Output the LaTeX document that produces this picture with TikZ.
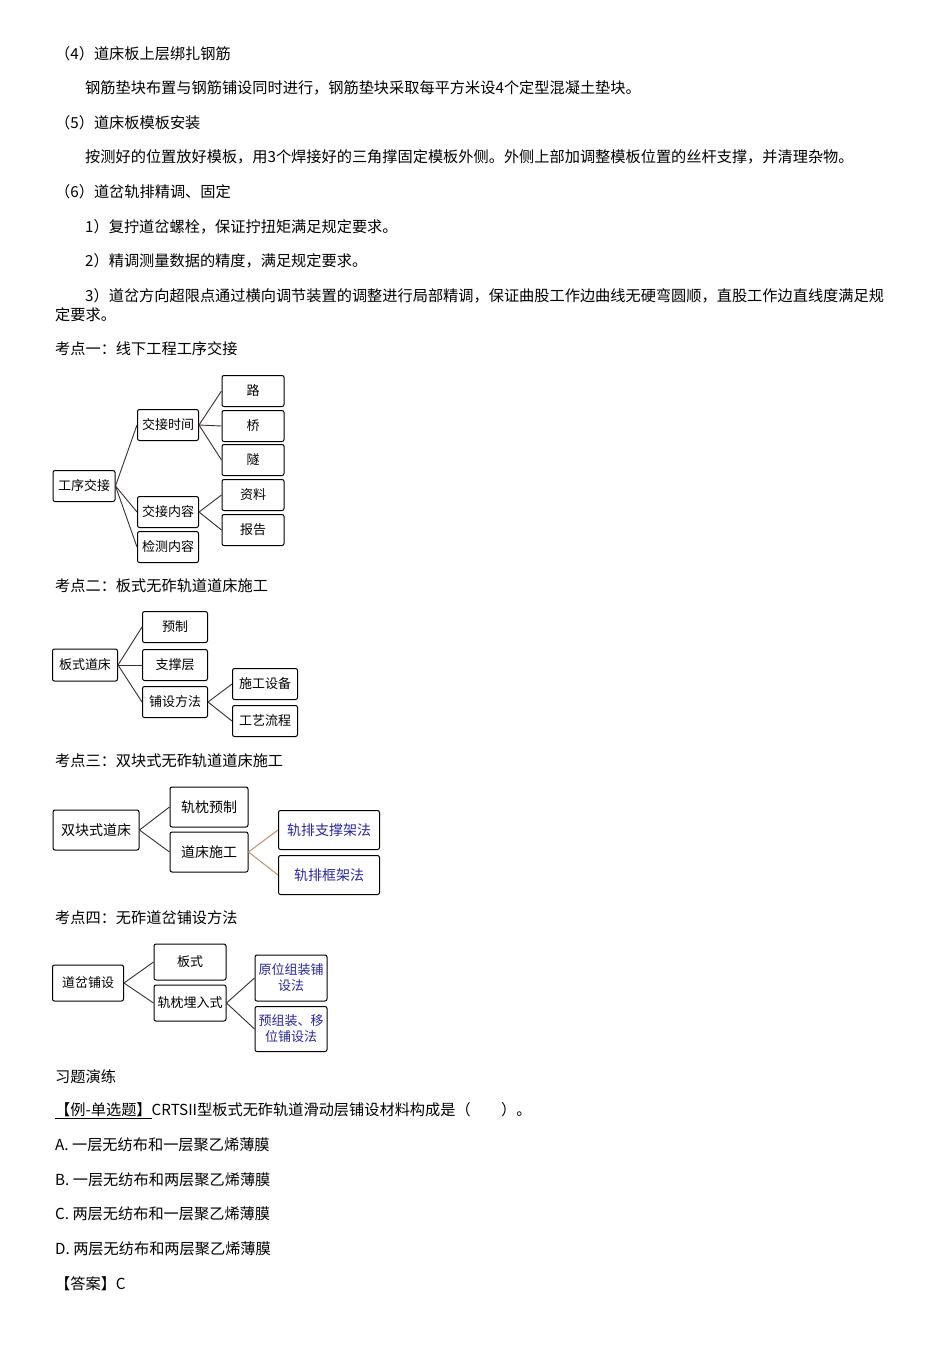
\documentclass[tikz,border=0pt]{standalone}
\usepackage{fontspec}
\setmainfont{Noto Sans CJK SC}
\tikzset{
  txt/.style={anchor=west,inner sep=0pt,font=\fontsize{15.2}{17}\selectfont},
  box/.style={draw,rounded corners=2pt,line width=1pt,inner sep=1pt,align=center,font=\fontsize{13}{16}\selectfont},
  big/.style={font=\fontsize{14}{17}\selectfont},
  blu/.style={text={rgb,255:red,40;green,40;blue,150}},
  link/.style={line width=0.9pt,color={rgb,255:red,60;green,45;blue,45}},
  brn/.style={line width=1pt,color={rgb,255:red,190;green,145;blue,110}}
}
\begin{document}
\begin{tikzpicture}[x=1pt,y=-1pt]
\useasboundingbox[fill=white] (0,0) rectangle (950,1345);

% text
\node[txt] (t1) at (55,54) {（4）道床板上层绑扎钢筋};
\node[txt] (t2) at (85,88) {钢筋垫块布置与钢筋铺设同时进行，钢筋垫块采取每平方米设4个定型混凝土垫块。};
\node[txt] (t3) at (55,123) {（5）道床板模板安装};
\node[txt] (t4) at (85,157) {按测好的位置放好模板，用3个焊接好的三角撑固定模板外侧。外侧上部加调整模板位置的丝杆支撑，并清理杂物。};
\node[txt] (t5) at (55,192) {（6）道岔轨排精调、固定};
\node[txt] (t6) at (85,227) {1）复拧道岔螺栓，保证拧扭矩满足规定要求。};
\node[txt] (t7) at (85,261) {2）精调测量数据的精度，满足规定要求。};
\node[txt] (t8) at (85,296) {3）道岔方向超限点通过横向调节装置的调整进行局部精调，保证曲股工作边曲线无硬弯圆顺，直股工作边直线度满足规};
\node[txt] (t9) at (55,315) {定要求。};
\node[txt] (k1) at (55,349) {考点一：线下工程工序交接};
\node[txt] (k2) at (55,586) {考点二：板式无砟轨道道床施工};
\node[txt] (k3) at (55,761) {考点三：双块式无砟轨道道床施工};
\node[txt] (k4) at (55,918) {考点四：无砟道岔铺设方法};
\node[txt] (xt) at (55,1077) {习题演练};
\node[txt] (q) at (55,1111) {\underline{【例-单选题】}CRTSII型板式无砟轨道滑动层铺设材料构成是（\quad\quad）。};
\node[txt] (qa) at (55,1145) {A.\ 一层无纺布和一层聚乙烯薄膜};
\node[txt] (qb) at (55,1180) {B.\ 一层无纺布和两层聚乙烯薄膜};
\node[txt] (qc) at (55,1214) {C.\ 两层无纺布和一层聚乙烯薄膜};
\node[txt] (qd) at (55,1249) {D.\ 两层无纺布和两层聚乙烯薄膜};
\node[txt] (ans) at (55,1284) {【答案】C};

% diagram 1
\node[box,minimum width=62,minimum height=31] (gx) at (84,486) {工序交接};
\node[box,minimum width=61,minimum height=31] (sj) at (168,425) {交接时间};
\node[box,minimum width=61,minimum height=31] (nr) at (168,512) {交接内容};
\node[box,minimum width=61,minimum height=31] (jc) at (168,547) {检测内容};
\node[box,minimum width=62,minimum height=31] (lu) at (253,391) {路};
\node[box,minimum width=62,minimum height=31] (qi) at (253,426) {桥};
\node[box,minimum width=62,minimum height=31] (su) at (253,460) {隧};
\node[box,minimum width=62,minimum height=31] (zl) at (253,495) {资料};
\node[box,minimum width=62,minimum height=31] (bg) at (253,530) {报告};
\foreach \a/\b in {gx/sj,gx/nr,gx/jc,sj/lu,sj/qi,sj/su,nr/zl,nr/bg}
  \draw[link] (\a.east) -- (\b.west);

% diagram 2
\node[box,minimum width=65,minimum height=32] (bs) at (85,665) {板式道床};
\node[box,minimum width=65,minimum height=31] (yz) at (175,627) {预制};
\node[box,minimum width=65,minimum height=31] (zc) at (175,665) {支撑层};
\node[box,minimum width=65,minimum height=31] (pf) at (175,702) {铺设方法};
\node[box,minimum width=65,minimum height=31] (sb) at (265,684) {施工设备};
\node[box,minimum width=65,minimum height=31] (lc) at (265,721) {工艺流程};
\foreach \a/\b in {bs/yz,bs/zc,bs/pf,pf/sb,pf/lc}
  \draw[link] (\a.east) -- (\b.west);

% diagram 3
\node[box,big,minimum width=86,minimum height=40] (sk) at (96,830) {双块式道床};
\node[box,big,minimum width=78,minimum height=40] (gz) at (209,807) {轨枕预制};
\node[box,big,minimum width=78,minimum height=40] (dc) at (209,852) {道床施工};
\node[box,big,blu,minimum width=101,minimum height=39] (zj) at (329,830) {轨排支撑架法};
\node[box,big,blu,minimum width=101,minimum height=39] (kj) at (329,875) {轨排框架法};
\foreach \a/\b in {sk/gz,sk/dc}
  \draw[link] (\a.east) -- (\b.west);
\foreach \a/\b in {dc/zj,dc/kj}
  \draw[brn] (\a.east) -- (\b.west);

% diagram 4
\node[box,minimum width=71,minimum height=36] (dp) at (88,983) {道岔铺设};
\node[box,minimum width=72,minimum height=36] (bsh) at (190,962) {板式};
\node[box,minimum width=72,minimum height=36] (mr) at (190,1003) {轨枕埋入式};
\node[box,blu,minimum width=72,minimum height=46] (yw) at (291,978) {原位组装铺\\设法};
\node[box,blu,minimum width=72,minimum height=45] (yy) at (291,1029) {预组装、移\\位铺设法};
\foreach \a/\b in {dp/bsh,dp/mr,mr/yw,mr/yy}
  \draw[link] (\a.east) -- (\b.west);
\end{tikzpicture}
\end{document}
